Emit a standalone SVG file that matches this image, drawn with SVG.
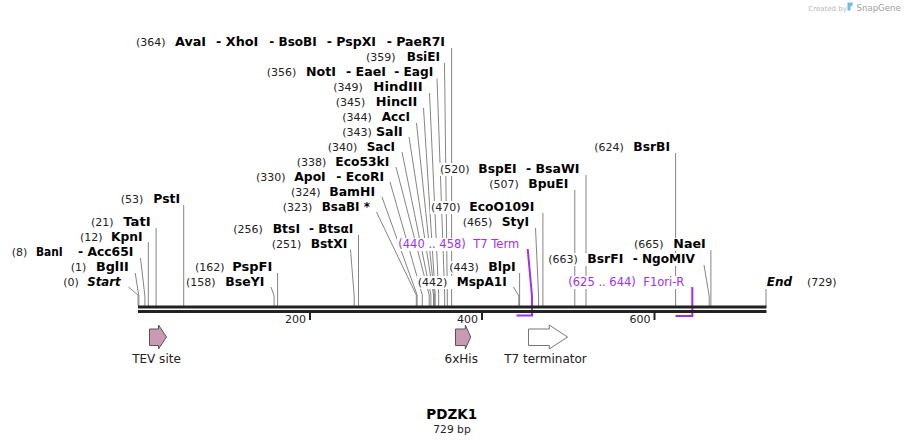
<svg xmlns="http://www.w3.org/2000/svg" width="905" height="445" viewBox="0 0 905 445">
<style>
text{font-family:"DejaVu Sans","Liberation Sans",sans-serif}
.num{font-size:11px;fill:#222}
.nm{font-size:12px;font-weight:bold;fill:#000}
.it{font-style:italic}
.fl{font-size:11.5px;fill:#a030f0}
.bg{fill:#fff}
.cut{stroke:#858585;stroke-width:1;fill:none}
.fline{stroke:#a030f0;stroke-width:2;fill:none}
.bb{fill:#222}
.tick{font-size:11px;fill:#222}
.pink{fill:#cc99b3;stroke:#555;stroke-width:1}
.white{fill:#fff;stroke:#777;stroke-width:1}
.flab{font-size:12px;fill:#222}
</style>
<rect width="905" height="445" fill="#fff"/>
<g id="connectors">
<path class="cut" d="M138,306V295L128.5,287"/>
<path class="cut" d="M138.9,306V296L135.2,273"/>
<path class="cut" d="M144.9,306V296L140.5,258"/>
<path class="cut" d="M148.3,306V242"/>
<path class="cut" d="M156.1,306V228"/>
<path class="cut" d="M183.7,306V205"/>
<path class="cut" d="M274.1,306V296L271,287"/>
<path class="cut" d="M277.6,306V273"/>
<path class="cut" d="M354.2,306V296L350.5,249.5"/>
<path class="cut" d="M358.5,306V235"/>
<path class="cut" d="M416.3,306V295L376.5,212"/>
<path class="cut" d="M417.1,306V295L382,197"/>
<path class="cut" d="M422.3,306V295L390,182"/>
<path class="cut" d="M429.2,306V295L396,167"/>
<path class="cut" d="M430.9,306V295L402,152"/>
<path class="cut" d="M433.5,306V295L409,137"/>
<path class="cut" d="M434.4,306V295L416.5,123"/>
<path class="cut" d="M435.2,306V295L423.5,108"/>
<path class="cut" d="M438.7,306V295L429.5,93"/>
<path class="cut" d="M444.7,306V295L437,78.5"/>
<path class="cut" d="M447.3,306V295L444.5,63"/>
<path class="cut" d="M451.6,306V48"/>
<path class="cut" d="M518.8,306V296L513.5,287"/>
<path class="cut" d="M519.6,306V273"/>
<path class="cut" d="M538.6,306V296L535.5,228"/>
<path class="cut" d="M542.9,306V213"/>
<path class="cut" d="M574.8,306V190"/>
<path class="cut" d="M586,306V175"/>
<path class="cut" d="M675.6,306V153"/>
<path class="cut" d="M709.2,306V296L704,265"/>
<path class="cut" d="M710.9,306V250"/>
<path class="cut" d="M766,306V288"/>
<path class="fline" d="M527.7,249L532,296V315.5H516.5"/>
<path class="fline" d="M692.3,287V316H675.5"/>
</g>
<g id="backbone">
<rect class="bb" x="138" y="305.5" width="628.5" height="3"/>
<rect class="bb" x="138" y="310" width="628.5" height="3"/>
<rect class="bb" x="309" y="313" width="2" height="7"/>
<text class="tick" x="306" y="322.5" text-anchor="end">200</text>
<rect class="bb" x="481" y="313" width="2" height="7"/>
<text class="tick" x="478" y="322.5" text-anchor="end">400</text>
<rect class="bb" x="653.5" y="313" width="2" height="7"/>
<text class="tick" x="650.5" y="322.5" text-anchor="end">600</text>
</g>
<g id="site-start"><rect class="bg" x="62" y="276" width="60" height="13"/><text class="num" x="63.3" y="285.5">(0)</text><text class="nm it" x="87.3" y="285.5" textLength="33.4" lengthAdjust="spacingAndGlyphs">Start</text></g>
<g id="site-BglII"><rect class="bg" x="69.5" y="261" width="60" height="13"/><text class="num" x="70.7" y="271">(1)</text><text class="nm" x="96" y="271" textLength="32.7" lengthAdjust="spacingAndGlyphs">BglII</text></g>
<g id="site-BanI"><rect class="bg" x="10.5" y="246" width="124" height="13"/><text class="num" x="11.7" y="256">(8)</text><text class="nm" x="36" y="256" textLength="26.7" lengthAdjust="spacingAndGlyphs">BanI</text><text class="nm" x="78" y="256" textLength="55.3" lengthAdjust="spacingAndGlyphs">- Acc65I</text></g>
<g id="site-KpnI"><rect class="bg" x="79" y="231" width="65" height="13"/><text class="num" x="80" y="241">(12)</text><text class="nm" x="111" y="241" textLength="31.7" lengthAdjust="spacingAndGlyphs">KpnI</text></g>
<g id="site-TatI"><rect class="bg" x="90" y="216" width="62" height="13"/><text class="num" x="91" y="226">(21)</text><text class="nm" x="123.3" y="226" textLength="27.4" lengthAdjust="spacingAndGlyphs">TatI</text></g>
<g id="site-PstI"><rect class="bg" x="119.5" y="193" width="62" height="13"/><text class="num" x="120.7" y="202.5">(53)</text><text class="nm" x="153.3" y="202.5" textLength="26.7" lengthAdjust="spacingAndGlyphs">PstI</text></g>
<g id="site-BseYI"><rect class="bg" x="185" y="276" width="81" height="13"/><text class="num" x="186" y="285.5">(158)</text><text class="nm" x="225.3" y="285.5" textLength="39" lengthAdjust="spacingAndGlyphs">BseYI</text></g>
<g id="site-PspFI"><rect class="bg" x="194" y="261" width="80" height="13"/><text class="num" x="195" y="271">(162)</text><text class="nm" x="232.3" y="271" textLength="40" lengthAdjust="spacingAndGlyphs">PspFI</text></g>
<g id="site-BstXI"><rect class="bg" x="270.5" y="238" width="78" height="13"/><text class="num" x="271.7" y="247.5">(251)</text><text class="nm" x="310.7" y="247.5" textLength="36.6" lengthAdjust="spacingAndGlyphs">BstXI</text></g>
<g id="site-BtsI"><rect class="bg" x="232" y="223" width="123" height="13"/><text class="num" x="233.3" y="232.5">(256)</text><text class="nm" x="272.7" y="232.5" textLength="27.3" lengthAdjust="spacingAndGlyphs">BtsI</text><text class="nm" x="309" y="232.5" textLength="44.3" lengthAdjust="spacingAndGlyphs">- BtsαI</text></g>
<g id="site-BsaBI"><rect class="bg" x="281.5" y="201" width="90" height="13"/><text class="num" x="282.7" y="211">(323)</text><text class="nm" x="321.7" y="211" textLength="48.3" lengthAdjust="spacingAndGlyphs">BsaBI *</text></g>
<g id="site-BamHI"><rect class="bg" x="290" y="186" width="86" height="13"/><text class="num" x="291" y="196">(324)</text><text class="nm" x="329.3" y="196" textLength="45.7" lengthAdjust="spacingAndGlyphs">BamHI</text></g>
<g id="site-ApoI"><rect class="bg" x="255" y="171" width="130" height="13"/><text class="num" x="256" y="181">(330)</text><text class="nm" x="294.3" y="181" textLength="31.4" lengthAdjust="spacingAndGlyphs">ApoI</text><text class="nm" x="336.3" y="181" textLength="47.7" lengthAdjust="spacingAndGlyphs">- EcoRI</text></g>
<g id="site-Eco53kI"><rect class="bg" x="295.5" y="156" width="95" height="13"/><text class="num" x="296.7" y="166">(338)</text><text class="nm" x="335.3" y="166" textLength="54" lengthAdjust="spacingAndGlyphs">Eco53kI</text></g>
<g id="site-SacI"><rect class="bg" x="326.5" y="141" width="70" height="13"/><text class="num" x="327.7" y="151">(340)</text><text class="nm" x="366.7" y="151" textLength="28.3" lengthAdjust="spacingAndGlyphs">SacI</text></g>
<g id="site-SalI"><rect class="bg" x="341" y="126" width="63" height="13"/><text class="num" x="342.3" y="136">(343)</text><text class="nm" x="376" y="136" textLength="26.7" lengthAdjust="spacingAndGlyphs">SalI</text></g>
<g id="site-AccI"><rect class="bg" x="341" y="111" width="70" height="13"/><text class="num" x="342.3" y="121">(344)</text><text class="nm" x="381.7" y="121" textLength="28.3" lengthAdjust="spacingAndGlyphs">AccI</text></g>
<g id="site-HincII"><rect class="bg" x="334.5" y="96" width="84" height="13"/><text class="num" x="335.7" y="106">(345)</text><text class="nm" x="375.7" y="106" textLength="41.6" lengthAdjust="spacingAndGlyphs">HincII</text></g>
<g id="site-HindIII"><rect class="bg" x="332" y="81" width="92" height="13"/><text class="num" x="333.3" y="91">(349)</text><text class="nm" x="373.3" y="91" textLength="49.4" lengthAdjust="spacingAndGlyphs">HindIII</text></g>
<g id="site-NotI"><rect class="bg" x="265.5" y="66" width="169" height="13"/><text class="num" x="266.7" y="76">(356)</text><text class="nm" x="306" y="76" textLength="30" lengthAdjust="spacingAndGlyphs">NotI</text><text class="nm" x="346" y="76" textLength="40" lengthAdjust="spacingAndGlyphs">- EaeI</text><text class="nm" x="394.3" y="76" textLength="39" lengthAdjust="spacingAndGlyphs">- EagI</text></g>
<g id="site-BsiEI"><rect class="bg" x="365" y="51" width="76" height="13"/><text class="num" x="366" y="61">(359)</text><text class="nm" x="406.7" y="61" textLength="33.3" lengthAdjust="spacingAndGlyphs">BsiEI</text></g>
<g id="site-AvaI"><rect class="bg" x="135" y="36" width="311" height="13"/><text class="num" x="136" y="46">(364)</text><text class="nm" x="175" y="46" textLength="31" lengthAdjust="spacingAndGlyphs">AvaI</text><text class="nm" x="216" y="46" textLength="42.3" lengthAdjust="spacingAndGlyphs">- XhoI</text><text class="nm" x="269.3" y="46" textLength="47.4" lengthAdjust="spacingAndGlyphs">- BsoBI</text><text class="nm" x="326.7" y="46" textLength="49.3" lengthAdjust="spacingAndGlyphs">- PspXI</text><text class="nm" x="386.7" y="46" textLength="58.3" lengthAdjust="spacingAndGlyphs">- PaeR7I</text></g>
<g id="site-MspA1I"><rect class="bg" x="416.5" y="276" width="91" height="13"/><text class="num" x="417.7" y="285.5">(442)</text><text class="nm" x="456.7" y="285.5" textLength="50" lengthAdjust="spacingAndGlyphs">MspA1I</text></g>
<g id="site-BlpI"><rect class="bg" x="448" y="261" width="69" height="13"/><text class="num" x="449.3" y="271">(443)</text><text class="nm" x="488.3" y="271" textLength="27.4" lengthAdjust="spacingAndGlyphs">BlpI</text></g>
<g id="feature-T7Term-label"><rect class="bg" x="397" y="238" width="125" height="13"/><text class="fl" x="398.3" y="247.5">(440 .. 458)</text><text class="fl" x="473.3" y="247.5">T7 Term</text></g>
<g id="site-StyI"><rect class="bg" x="461.5" y="216" width="68" height="13"/><text class="num" x="462.7" y="226">(465)</text><text class="nm" x="501.7" y="226" textLength="27.3" lengthAdjust="spacingAndGlyphs">StyI</text></g>
<g id="site-EcoO109I"><rect class="bg" x="430" y="201" width="106" height="13"/><text class="num" x="431" y="211">(470)</text><text class="nm" x="469.3" y="211" textLength="65" lengthAdjust="spacingAndGlyphs">EcoO109I</text></g>
<g id="site-BpuEI"><rect class="bg" x="488" y="178" width="81" height="13"/><text class="num" x="489.3" y="187.5">(507)</text><text class="nm" x="528.3" y="187.5" textLength="40" lengthAdjust="spacingAndGlyphs">BpuEI</text></g>
<g id="site-BspEI"><rect class="bg" x="439" y="163" width="141" height="13"/><text class="num" x="440" y="172.5">(520)</text><text class="nm" x="478.3" y="172.5" textLength="38.4" lengthAdjust="spacingAndGlyphs">BspEI</text><text class="nm" x="526" y="172.5" textLength="53.3" lengthAdjust="spacingAndGlyphs">- BsaWI</text></g>
<g id="site-BsrBI"><rect class="bg" x="593" y="141" width="78" height="13"/><text class="num" x="594.3" y="151">(624)</text><text class="nm" x="633.3" y="151" textLength="36.7" lengthAdjust="spacingAndGlyphs">BsrBI</text></g>
<g id="feature-F1oriR-label"><rect class="bg" x="567" y="276" width="121" height="13"/><text class="fl" x="568.3" y="285.5">(625 .. 644)</text><text class="fl" x="643.3" y="285.5">F1ori-R</text></g>
<g id="site-BsrFI"><rect class="bg" x="547" y="253" width="149" height="13"/><text class="num" x="548.3" y="262.5">(663)</text><text class="nm" x="587.3" y="262.5" textLength="36" lengthAdjust="spacingAndGlyphs">BsrFI</text><text class="nm" x="632.7" y="262.5" textLength="62.3" lengthAdjust="spacingAndGlyphs">- NgoMIV</text></g>
<g id="site-NaeI"><rect class="bg" x="633" y="238" width="74" height="13"/><text class="num" x="634" y="247.5">(665)</text><text class="nm" x="673.3" y="247.5" textLength="32.4" lengthAdjust="spacingAndGlyphs">NaeI</text></g>
<g id="site-end"><rect class="bg" x="765" y="276" width="72" height="13"/><text class="nm it" x="766.7" y="285.5">End</text><text class="num" x="807" y="285.5">(729)</text></g>
<g id="feature-TEV">
<path class="pink" d="M149.5,329H158.5V325L166.5,337L158.5,349V345.5H149.5Z"/>
<text class="flab" x="156.5" y="362.5" text-anchor="middle">TEV site</text>
</g>
<g id="feature-6xHis">
<path class="pink" d="M455.5,329H465.3V325L470.7,337L465.3,349V345.5H455.5Z"/>
<text class="flab" x="461.3" y="362.5" text-anchor="middle">6xHis</text>
</g>
<g id="feature-T7terminator">
<path class="white" d="M528.5,329H549.3V325L567.5,337L549.3,349V345.5H528.5Z"/>
<text class="flab" x="545.5" y="362.5" text-anchor="middle">T7 terminator</text>
</g>
<g id="title">
<text x="451.7" y="419" text-anchor="middle" font-size="13.5" font-weight="bold" fill="#000">PDZK1</text>
<text x="452" y="432.5" text-anchor="middle" font-size="10.7" fill="#222">729 bp</text>
</g>
<g id="logo">
<text x="808.3" y="11" font-size="7" fill="#b8b8b8">Created by</text>
<path d="M847.5,2.5h5v3.5h-2v4.5h-3z" fill="#6cbbe8"/>
<text x="856.5" y="11" font-size="8.6" fill="#a0a0a0">SnapGene</text>
</g>
</svg>
